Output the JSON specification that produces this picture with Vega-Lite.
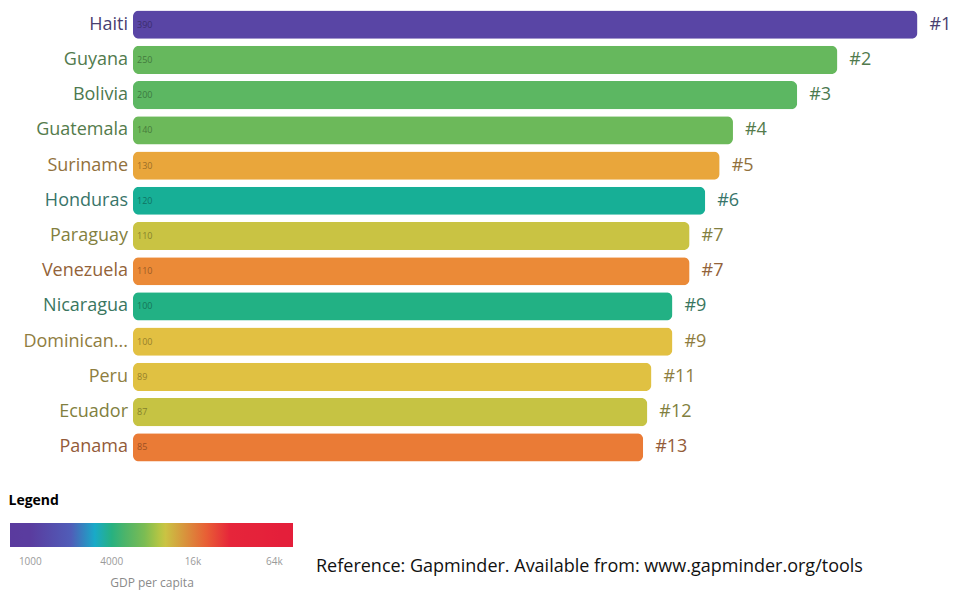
{
  "$schema": "https://vega.github.io/schema/vega-lite/v6.json",
  "autosize": {"type": "none"},
  "padding": {"left": 133, "top": 7, "right": 36, "bottom": 131},
  "width": 789,
  "height": 458,
  "background": "white",
  "title": {
    "text": "Reference: Gapminder. Available from: www.gapminder.org/tools",
    "orient": "bottom",
    "anchor": "start",
    "frame": "group",
    "dx": 183,
    "offset": -31,
    "font": "Open Sans",
    "fontSize": 18,
    "fontWeight": "normal",
    "color": "#111111"
  },
  "data": {
    "values": [
      {"country": "Haiti", "value": 390, "rank": "#1", "gdp": 1610},
      {"country": "Guyana", "value": 250, "rank": "#2", "gdp": 6020},
      {"country": "Bolivia", "value": 200, "rank": "#3", "gdp": 5600},
      {"country": "Guatemala", "value": 140, "rank": "#4", "gdp": 6290},
      {"country": "Suriname", "value": 130, "rank": "#5", "gdp": 13800},
      {"country": "Honduras", "value": 120, "rank": "#6", "gdp": 3500},
      {"country": "Paraguay", "value": 110, "rank": "#7", "gdp": 9940},
      {"country": "Venezuela", "value": 110, "rank": "#7", "gdp": 16400},
      {"country": "Nicaragua", "value": 100, "rank": "#9", "gdp": 3870},
      {"country": "Dominican Republic", "value": 100, "rank": "#9", "gdp": 11300},
      {"country": "Peru", "value": 89, "rank": "#11", "gdp": 11100},
      {"country": "Ecuador", "value": 87, "rank": "#12", "gdp": 9790},
      {"country": "Panama", "value": 85, "rank": "#13", "gdp": 17600}
    ]
  },
  "encoding": {
    "y": {
      "field": "country",
      "type": "nominal",
      "sort": null,
      "scale": {"paddingInner": 0.2, "paddingOuter": 0.1},
      "axis": null
    }
  },
  "layer": [
    {
      "mark": {"type": "bar", "cornerRadius": 6},
      "encoding": {
        "x": {
          "field": "value",
          "type": "quantitative",
          "scale": {"type": "log", "domain": [5, 400], "nice": false, "clamp": true},
          "axis": {
            "orient": "bottom",
            "domain": false,
            "ticks": false,
            "labels": false,
            "grid": false,
            "title": "Legend",
            "titleX": -125,
            "titleY": 39,
            "titleAlign": "left",
            "titleAnchor": null,
            "titleBaseline": "alphabetic",
            "titleFont": "Open Sans",
            "titleFontSize": 14,
            "titleFontWeight": "bold",
            "titleColor": "#000000"
          }
        },
        "color": {
          "field": "gdp",
          "type": "quantitative",
          "scale": {
            "type": "log",
            "domain": [707, 1524, 2036, 2860, 3630, 5020, 7070, 8820, 11200, 15200, 19600, 24500, 88000],
            "range": ["#5a3a9e", "#5b3fa0", "#4f5fba", "#1aa8d8", "#17b08a", "#4db46a", "#7cbc52", "#b0c544", "#e2c142", "#ec9a38", "#e86535", "#e6263a", "#e41e3a"],
            "interpolate": "rgb"
          },
          "legend": {
            "orient": "none",
            "legendX": -123,
            "legendY": 516,
            "direction": "horizontal",
            "gradientLength": 283,
            "gradientThickness": 24,
            "gradientStrokeWidth": 0,
            "padding": 0,
            "values": [1000, 4000, 16000, 64000],
            "labelExpr": "datum.value < 10000 ? format(datum.value, 'd') : format(datum.value / 1000, 'd') + 'k'",
            "labelFont": "Open Sans",
            "labelFontSize": 10,
            "labelColor": "#9a9a9a",
            "labelOffset": 10,
            "title": "GDP per capita",
            "titleOrient": "bottom",
            "titleAnchor": "middle",
            "titleFont": "Open Sans",
            "titleFontSize": 12,
            "titleFontWeight": "normal",
            "titleColor": "#8a8a8a",
            "titlePadding": 11
          }
        }
      }
    },
    {
      "mark": {"type": "text", "align": "left", "baseline": "middle", "dx": 4, "font": "Open Sans", "fontSize": 9, "color": "#000000", "opacity": 0.35},
      "encoding": {
        "x": {"datum": 5, "type": "quantitative"},
        "text": {"field": "value", "type": "quantitative"}
      }
    },
    {
      "mark": {"type": "text", "align": "right", "baseline": "middle", "dx": -5, "font": "Open Sans", "fontSize": 18, "limit": 107, "ellipsis": "..."},
      "encoding": {
        "x": {"datum": 5, "type": "quantitative"},
        "text": {"field": "country", "type": "nominal"},
        "color": {
          "field": "gdp",
          "type": "quantitative",
          "scale": {
            "type": "log",
            "domain": [707, 1524, 2036, 2860, 3630, 5020, 7070, 8820, 11200, 15200, 19600, 24500, 88000],
            "range": ["#4b3b6d", "#4b3d6e", "#454d7b", "#3a728a", "#387663", "#447853", "#5c7c47", "#768040", "#8f7e3f", "#946b3a", "#925038", "#91313b", "#91313b"],
            "interpolate": "rgb"
          },
          "legend": null
        }
      }
    },
    {
      "mark": {"type": "text", "align": "left", "baseline": "middle", "dx": 12, "font": "Open Sans", "fontSize": 18},
      "encoding": {
        "x": {"field": "value", "type": "quantitative"},
        "text": {"field": "rank", "type": "nominal"},
        "color": {
          "field": "gdp",
          "type": "quantitative",
          "scale": {
            "type": "log",
            "domain": [707, 1524, 2036, 2860, 3630, 5020, 7070, 8820, 11200, 15200, 19600, 24500, 88000],
            "range": ["#4b3b6d", "#4b3d6e", "#454d7b", "#3a728a", "#387663", "#447853", "#5c7c47", "#768040", "#8f7e3f", "#946b3a", "#925038", "#91313b", "#91313b"],
            "interpolate": "rgb"
          },
          "legend": null
        }
      }
    }
  ],
  "resolve": {"scale": {"color": "independent"}},
  "config": {
    "view": {"stroke": null}
  }
}
